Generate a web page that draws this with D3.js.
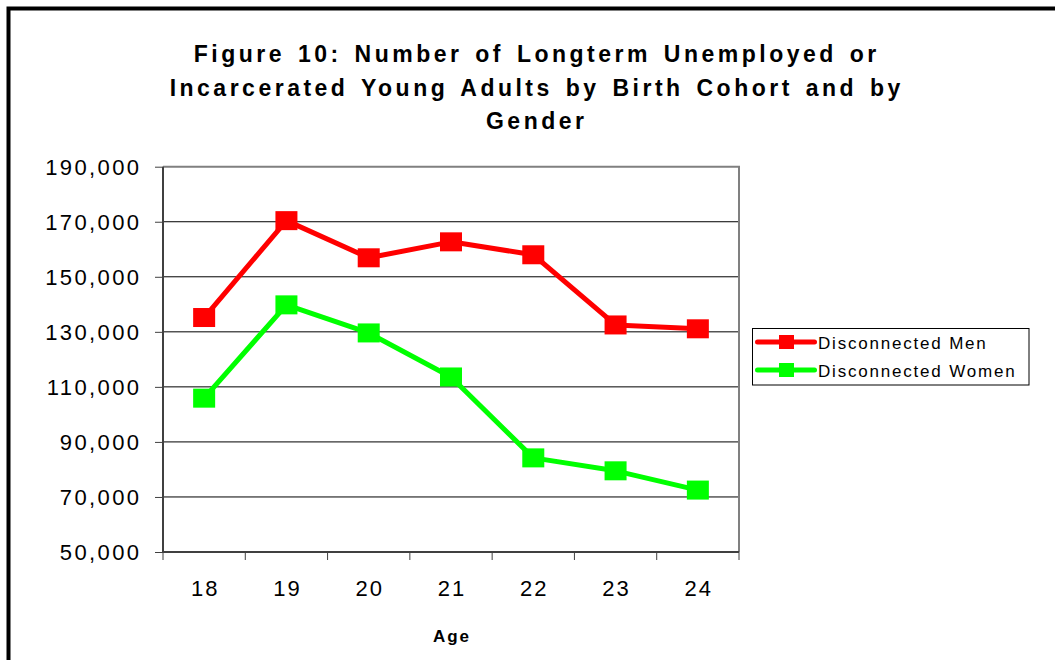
<!DOCTYPE html>
<html>
<head>
<meta charset="utf-8">
<script src="https://cdn.jsdelivr.net/npm/d3@7"></script>
<style>
    html, body { margin: 0; padding: 0; background: #fff; overflow: hidden; }
    text { font-family: 'Liberation Sans', Arial, sans-serif; }
</style>
</head>
<body>
<svg id="chart" width="1055" height="660"></svg>
<script>
// 年龄（横轴）
const ages = ['18', '19', '20', '21', '22', '23', '24']
// 两条线的数值
const menValues = [135200, 170400, 156900, 162700, 158000, 132500, 131100]
const womenValues = [105900, 139800, 129600, 113600, 84200, 79500, 72500]
const seriesNames = ['Disconnected Men', 'Disconnected Women']
const seriesColors = ['#ff0000', '#00ff00']
// 纵轴刻度
const yTicks = [50000, 70000, 90000, 110000, 130000, 150000, 170000, 190000]
const titleLines = [
    'Figure 10: Number of Longterm Unemployed or',
    'Incarcerated Young Adults by Birth Cohort and by',
    'Gender',
]

const svg = d3.select('#chart')

// 外框 只露出上边和左边
svg.append('rect')
    .attr('x', 8.5)
    .attr('y', 8.5)
    .attr('width', 1200)
    .attr('height', 800)
    .attr('fill', 'none')
    .attr('stroke', '#000')
    .attr('stroke-width', 4)

const plot = { left: 163, right: 739, top: 166.7, bottom: 552 }

const x = d3.scaleBand()
    .domain(ages)
    .range([plot.left, plot.right])

const y = d3.scaleLinear()
    .domain([50000, 190000])
    .range([plot.bottom, plot.top])

// 标题
const titleLs = 3.5
svg.append('g')
    .selectAll('text')
    .data(titleLines)
    .join('text')
    .attr('x', 535 + titleLs / 2)
    .attr('y', (d, i) => 62 + i * 33.5)
    .attr('text-anchor', 'middle')
    .attr('font-size', 23)
    .attr('font-weight', 'bold')
    .attr('letter-spacing', titleLs)
    .attr('word-spacing', 3)
    .attr('fill', '#000')
    .text(d => d)

// 网格线
svg.append('g')
    .selectAll('line')
    .data(yTicks.slice(1, -1))
    .join('line')
    .attr('x1', plot.left)
    .attr('x2', plot.right)
    .attr('y1', d => y(d))
    .attr('y2', d => y(d))
    .attr('stroke', '#000')
    .attr('stroke-width', 1)

// 绘图区上边和右边 灰色
svg.append('path')
    .attr('d', `M${plot.left},${plot.top}H${plot.right}V${plot.bottom}`)
    .attr('fill', 'none')
    .attr('stroke', '#808080')
    .attr('stroke-width', 2)

// y 轴
const yAxis = svg.append('g')
    .attr('transform', `translate(${plot.left},0)`)
    .call(d3.axisLeft(y).tickValues(yTicks).tickSize(8).tickFormat(d3.format(',')))
yAxis.select('.domain')
    .attr('d', `M0,${plot.top}V${plot.bottom}`)
    .attr('stroke', '#404040')
    .attr('stroke-width', 2)
yAxis.selectAll('.tick line').attr('stroke', '#404040').attr('stroke-width', 1)
yAxis.selectAll('.tick text')
    .attr('x', -21.5)
    .attr('dy', '0.36em')
    .attr('font-size', 22)
    .attr('font-family', "'Liberation Sans', Arial, sans-serif")
    .attr('letter-spacing', 2.4)
    .attr('fill', '#000')

// x 轴
const xAxis = svg.append('g')
    .attr('transform', `translate(0,${plot.bottom})`)
    .call(d3.axisBottom(x).tickSize(0).tickPadding(0))
xAxis.select('.domain')
    .attr('d', `M${plot.left},0H${plot.right}`)
    .attr('stroke', '#404040')
    .attr('stroke-width', 2)
xAxis.selectAll('.tick text')
    .attr('dy', 0)
    .attr('y', 44)
    .attr('dx', 1)
    .attr('font-size', 22)
    .attr('font-family', "'Liberation Sans', Arial, sans-serif")
    .attr('letter-spacing', 2)
    .attr('fill', '#000')

// x 轴刻度在分类的边界上
const edges = ages.map(a => x(a)).concat(x(ages[ages.length - 1]) + x.step())
xAxis.append('g')
    .selectAll('line')
    .data(edges)
    .join('line')
    .attr('x1', d => d)
    .attr('x2', d => d)
    .attr('y1', 0)
    .attr('y2', 8)
    .attr('stroke', '#404040')
    .attr('stroke-width', 1)

// 横轴标题
svg.append('text')
    .attr('x', (plot.left + plot.right) / 2 + 1)
    .attr('y', 642)
    .attr('text-anchor', 'middle')
    .attr('font-size', 17)
    .attr('font-weight', 'bold')
    .attr('letter-spacing', 2)
    .attr('fill', '#000')
    .text('Age')

// 折线和方块标记
const series = [menValues, womenValues]
const line = d3.line()
    .x((d, i) => x(ages[i]) + x.bandwidth() / 2)
    .y(d => y(d))

series.forEach((values, si) => {
    const g = svg.append('g').classed('series', true)

    g.append('path')
        .datum(values)
        .attr('d', line)
        .attr('fill', 'none')
        .attr('stroke', seriesColors[si])
        .attr('stroke-width', 5)
        .attr('stroke-linejoin', 'round')

    g.selectAll('rect')
        .data(values)
        .join('rect')
        .attr('x', (d, i) => x(ages[i]) + x.bandwidth() / 2 - 11)
        .attr('y', d => y(d) - 9.5)
        .attr('width', 22)
        .attr('height', 19)
        .attr('fill', seriesColors[si])
})

// 图例
const legend = svg.append('g').attr('transform', 'translate(752.5,328.5)')
legend.append('rect')
    .attr('width', 276.5)
    .attr('height', 56.5)
    .attr('fill', '#fff')
    .attr('stroke', '#000')
    .attr('stroke-width', 1)

const legendItem = legend.selectAll('g.item')
    .data(seriesNames)
    .join('g')
    .classed('item', true)
    .attr('transform', (d, i) => `translate(0,${13.5 + i * 28})`)

legendItem.append('line')
    .attr('x1', 5)
    .attr('x2', 62)
    .attr('stroke', (d, i) => seriesColors[i])
    .attr('stroke-width', 5)
    .attr('stroke-linecap', 'round')

legendItem.append('rect')
    .attr('x', 26.5)
    .attr('y', -7)
    .attr('width', 15)
    .attr('height', 14)
    .attr('fill', (d, i) => seriesColors[i])

legendItem.append('text')
    .attr('x', 65.5)
    .attr('y', 6.5)
    .attr('font-size', 17)
    .attr('letter-spacing', 1.8)
    .attr('fill', '#000')
    .text(d => d)
</script>
</body>
</html>
